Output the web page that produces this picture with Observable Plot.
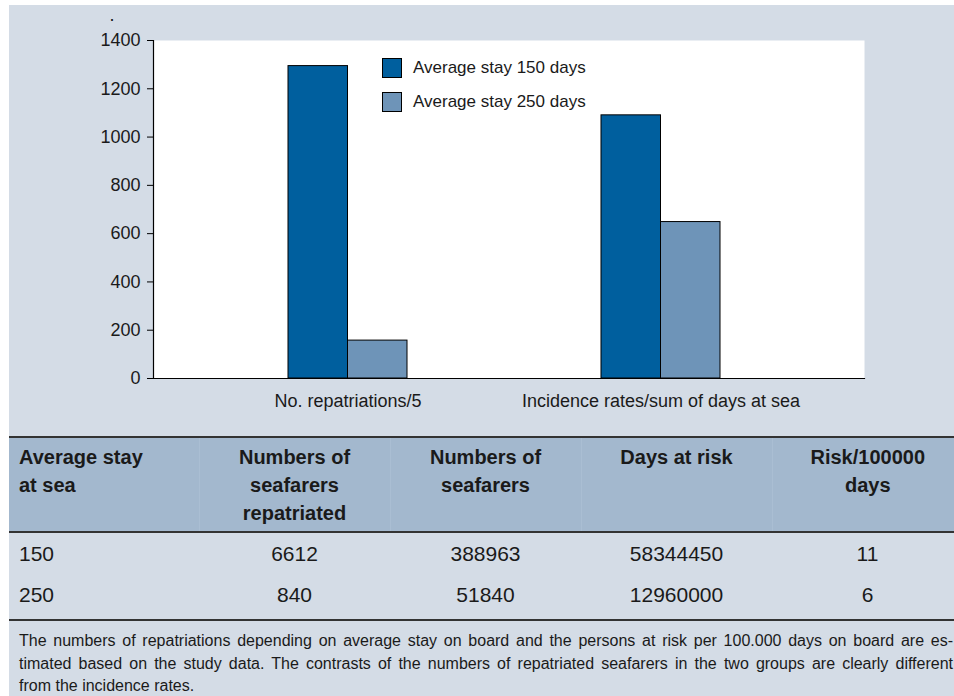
<!DOCTYPE html>
<html>
<head>
<meta charset="utf-8">
<script src="https://cdn.jsdelivr.net/npm/d3@7"></script>
<script src="https://cdn.jsdelivr.net/npm/@observablehq/plot@0.6"></script>
<style>
  body { margin: 0; background: #fff; font-family: "Liberation Sans", Arial, sans-serif; color: #1a1a1a; }
  #wrap { position: absolute; left: 9px; top: 5px; width: 945px; height: 691px; background: #d4dce6; overflow: hidden; }
  #chart { position: relative; height: 415px; }
  #chart svg { display: block; }
  #legend { position: absolute; left: 373px; top: 53px; font-size: 17px; color: #1a1a1a; }
  .sw { display: flex; align-items: center; height: 20px; margin-bottom: 14px; white-space: nowrap; }
  .sw .box { width: 18px; height: 18px; border: 1px solid #000; margin-right: 11px; flex: none; }
  table { border-collapse: collapse; margin-top: 16px; table-layout: fixed; width: 954px; }
  th { background: #a3b8ce; font-weight: bold; font-size: 20px; line-height: 28px; vertical-align: top;
       padding: 5px 0 4px 0; border-top: 2px solid #333; border-bottom: 2px solid #333; text-align: center; }
  th + th { border-left: 1px solid #aabed3; }
  td { font-size: 21px; height: 41px; line-height: 41px; padding: 0; text-align: center; }
  th:first-child, td:first-child { text-align: left; padding-left: 10px; }
  th:last-child, td:last-child { padding-left: 0; }
  tr.last td { padding-bottom: 4px; border-bottom: 2px solid #333; }
  #caption { font-size: 16px; line-height: 22.5px; padding: 9px 1px 0 10px; }
  #caption .j { text-align: justify; text-align-last: justify; }
</style>
</head>
<body>
<div id="wrap">
  <div id="chart"><div id="legend"></div></div>
  <div id="table"></div>
  <div id="caption"></div>
</div>
<script>
// ---- data ----
const groups = ["No. repatriations/5", "Incidence rates/sum of days at sea"];
const series = ["Average stay 150 days", "Average stay 250 days"];
const stay150 = [1294, 1090];
const stay250 = [157, 648];
const colors = ["#005f9e", "#6e94b8"];
const yTicks = [0, 200, 400, 600, 800, 1000, 1200, 1400];

const tableHeader = ["Average stay<br>at sea", "Numbers of<br>seafarers<br>repatriated", "Numbers of<br>seafarers", "Days at risk", "Risk/100000<br>days"];
const tableStay = ["150", "250"];
const tableRepatriated = ["6612", "840"];
const tableSeafarers = ["388963", "51840"];
const tableDays = ["58344450", "12960000"];
const tableRisk = ["11", "6"];

const captionLines = [
  "The numbers of repatriations depending on average stay on board and the persons at risk per 100.000 days on board are es-",
  "timated based on the study data. The contrasts of the numbers of repatriated seafarers in the two groups are clearly different",
  "from the incidence rates."
];

// ---- chart ----
const data = groups.flatMap((g, i) => [
  {group: g, series: series[0], value: stay150[i]},
  {group: g, series: series[1], value: stay250[i]}
]);
const halfBar = 59.5;

const plot = Plot.plot({
  width: 945,
  height: 415,
  marginLeft: 144,
  marginRight: 90,
  marginTop: 35,
  marginBottom: 42,
  style: {background: "transparent", fontFamily: "Liberation Sans, Arial, sans-serif", fontSize: "18px", color: "#1a1a1a"},
  x: {domain: groups, paddingInner: 0.621, paddingOuter: 0.4427, align: 0.482, axis: null},
  y: {domain: [0, 1400], axis: null},
  color: {domain: series, range: colors},
  marks: [
    Plot.frame({fill: "white", stroke: "none"}),
    Plot.barY(data.filter(d => d.series === series[0]), {x: "group", y: "value", fill: "series", stroke: "#000", strokeWidth: 1, insetRight: halfBar}),
    Plot.barY(data.filter(d => d.series === series[1]), {x: "group", y: "value", fill: "series", stroke: "#000", strokeWidth: 1, insetLeft: halfBar}),
    Plot.frame({anchor: "left", stroke: "#000", strokeWidth: 1.2}),
    Plot.frame({anchor: "bottom", stroke: "#000", strokeWidth: 1.2}),
    Plot.axisY({ticks: yTicks, tickSize: 6, tickPadding: 7, tickFormat: d => String(d), label: ".", labelAnchor: "top", labelOffset: 44, labelArrow: false, stroke: "#000"}),
    Plot.axisX({tickSize: 0, tickPadding: 16, label: null})
  ]
});
document.getElementById("chart").prepend(plot);

// legend
const legend = document.getElementById("legend");
series.forEach((s, i) => {
  const row = document.createElement("div");
  row.className = "sw";
  row.innerHTML = `<span class="box" style="background:${colors[i]}"></span><span>${s}</span>`;
  legend.appendChild(row);
});

// ---- table ----
let html = "<table><colgroup><col style='width:190px'><col style='width:191px'><col style='width:191px'><col style='width:191px'><col style='width:191px'></colgroup><tr>";
tableHeader.forEach(h => html += `<th>${h}</th>`);
html += "</tr>";
tableStay.forEach((s, i) => {
  html += `<tr class="${i === tableStay.length - 1 ? "last" : ""}"><td>${s}</td><td>${tableRepatriated[i]}</td><td>${tableSeafarers[i]}</td><td>${tableDays[i]}</td><td>${tableRisk[i]}</td></tr>`;
});
html += "</table>";
document.getElementById("table").innerHTML = html;

// ---- caption ----
document.getElementById("caption").innerHTML = captionLines.map((l, i) =>
  `<div class="${i < captionLines.length - 1 ? "j" : ""}">${l}</div>`).join("");
</script>
</body>
</html>
